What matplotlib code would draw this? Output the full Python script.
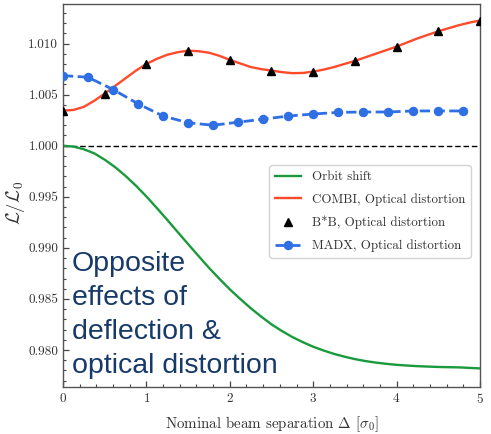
import matplotlib
matplotlib.use("Agg")
import matplotlib.pyplot as plt
from matplotlib.ticker import MultipleLocator, FormatStrFormatter

plt.rcParams["font.family"] = ["cmr10", "DejaVu Serif"]
plt.rcParams["mathtext.fontset"] = "cm"
plt.rcParams["axes.formatter.use_mathtext"] = True

# Luminosity ratio vs nominal beam separation
sep_fine = [0.0, 0.125, 0.25, 0.375, 0.5, 0.625, 0.75, 0.875, 1.0, 1.125,
            1.25, 1.375, 1.5, 1.625, 1.75, 1.875, 2.0, 2.125, 2.25, 2.375,
            2.5, 2.625, 2.75, 2.875, 3.0, 3.125, 3.25, 3.375, 3.5, 3.625,
            3.75, 3.875, 4.0, 4.125, 4.25, 4.375, 4.5, 4.625, 4.75, 4.875, 5.0]
orbit_shift = [1.00000, 0.99991, 0.99965, 0.99925, 0.99863, 0.99790, 0.99704,
               0.99608, 0.99503, 0.99390, 0.99274, 0.99155, 0.99037, 0.98920,
               0.98805, 0.98697, 0.98594, 0.98500, 0.98410, 0.98328, 0.98251,
               0.98186, 0.98127, 0.98077, 0.98032, 0.97995, 0.97962, 0.97935,
               0.97911, 0.97892, 0.97877, 0.97865, 0.97855, 0.97848, 0.97842,
               0.97838, 0.97834, 0.97832, 0.97830, 0.97825, 0.97820]
combi = [1.00343, 1.00350, 1.00380, 1.00440, 1.00510, 1.00585, 1.00660,
         1.00735, 1.00800, 1.00850, 1.00890, 1.00915, 1.00930, 1.00925,
         1.00910, 1.00880, 1.00840, 1.00805, 1.00770, 1.00750, 1.00735,
         1.00720, 1.00710, 1.00712, 1.00725, 1.00745, 1.00770, 1.00800,
         1.00830, 1.00865, 1.00900, 1.00935, 1.00970, 1.01010, 1.01050,
         1.01085, 1.01120, 1.01150, 1.01180, 1.01205, 1.01225]

sep_bb = [0.0, 0.5, 1.0, 1.5, 2.0, 2.5, 3.0, 3.5, 4.0, 4.5, 5.0]
bb = [1.00343, 1.00510, 1.00800, 1.00930, 1.00840, 1.00735, 1.00725,
      1.00830, 1.00970, 1.01120, 1.01225]

sep_madx = [0.0, 0.3, 0.6, 0.9, 1.2, 1.5, 1.8, 2.1, 2.4, 2.7, 3.0, 3.3,
            3.6, 3.9, 4.2, 4.5, 4.8]
madx = [1.00686, 1.00670, 1.00550, 1.00410, 1.00290, 1.00225, 1.00200,
        1.00230, 1.00260, 1.00290, 1.00310, 1.00326, 1.00330, 1.00330,
        1.00340, 1.00340, 1.00340]

fig = plt.figure(figsize=(4.91, 4.34), dpi=100)
ax = fig.add_axes([0.1283, 0.1083, 0.8493, 0.8825])

ax.axhline(1.0, color="black", lw=1.0, ls=(0, (4, 2)), zorder=1)
ax.plot(sep_fine, orbit_shift, color="#1a9a3c", lw=1.7, label="Orbit shift", zorder=2)
ax.plot(sep_fine, combi, color="#ff4b2b", lw=1.7, label="COMBI, Optical distortion", zorder=3)
ax.plot(sep_bb, bb, ls="none", marker="^", ms=5.8, color="black",
        label="B*B, Optical distortion", zorder=4)
ax.plot(sep_madx, madx, color="#2f6fe4", lw=2.0, ls="--", marker="o", ms=5.8,
        label="MADX, Optical distortion", zorder=3)

ax.set_xlim(0, 5)
ax.set_ylim(0.97638, 1.01387)
ax.xaxis.set_major_locator(MultipleLocator(1))
ax.xaxis.set_minor_locator(MultipleLocator(0.2))
ax.yaxis.set_major_locator(MultipleLocator(0.005))
ax.yaxis.set_minor_locator(MultipleLocator(0.001))
ax.yaxis.set_major_formatter(FormatStrFormatter("%.3f"))
ax.tick_params(which="both", direction="in", top=False, right=False,
               colors="#444444", labelcolor="#333333", labelsize=9.5)
ax.tick_params(which="major", length=4, width=0.9)
ax.tick_params(which="minor", length=2, width=0.8)
for sp in ax.spines.values():
    sp.set_color("#555555")
    sp.set_linewidth(1.0)

ax.set_xlabel(r"Nominal beam separation $\Delta$ [$\sigma_0$]", fontsize=10.8,
              color="#333333", labelpad=6)
ax.set_ylabel(r"$\mathcal{L}/\mathcal{L}_0$", fontsize=13.5, color="#333333")
ax.yaxis.set_label_coords(-0.087, 0.48)

leg = ax.legend(loc="lower right", bbox_to_anchor=(0.978, 0.337), fontsize=9.3,
                frameon=True, fancybox=True, edgecolor="#cccccc", framealpha=0.85,
                borderpad=0.45, borderaxespad=0.0, labelspacing=0.78,
                handlelength=2.0, handletextpad=0.85)
for t in leg.get_texts():
    t.set_color("#333333")

fig.text(72 / 491, 1 - 251 / 434,
         "Opposite\neffects of\ndeflection &\noptical distortion",
         family=["Liberation Sans", "DejaVu Sans"], fontsize=20.5,
         color="#173a6a", ha="left", va="top", linespacing=1.40)

fig.savefig("out.png", dpi=100)
